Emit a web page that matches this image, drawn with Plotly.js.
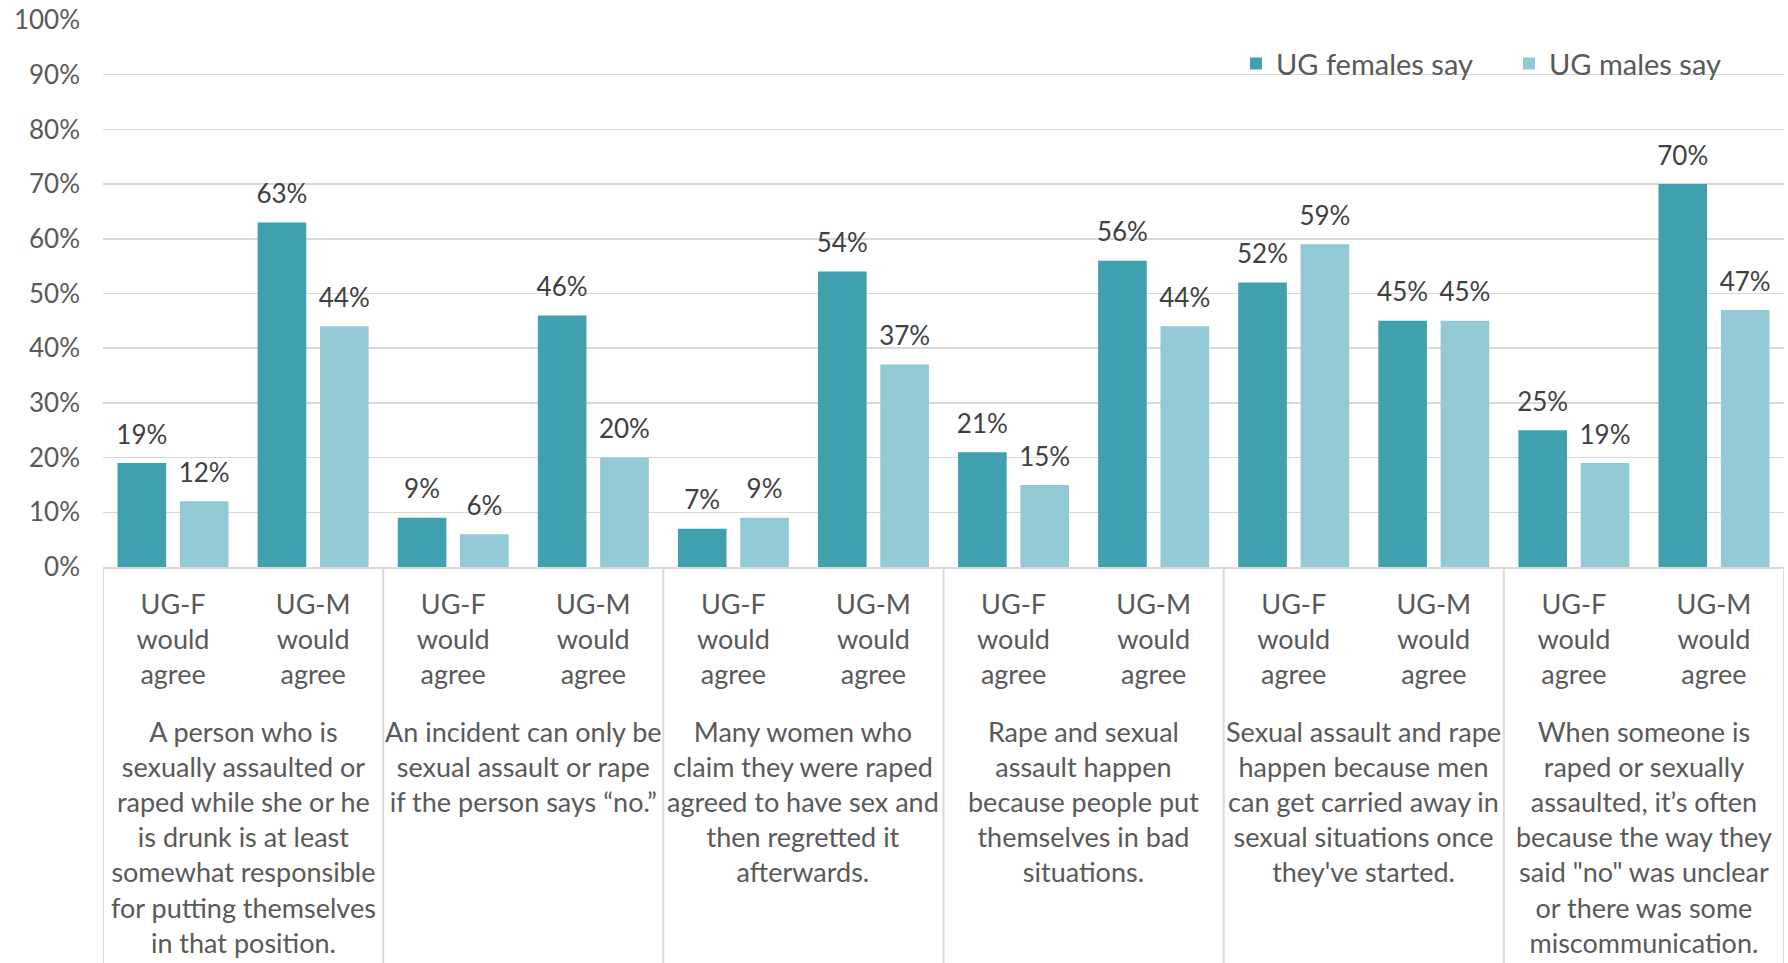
<!DOCTYPE html>
<html>
<head>
<meta charset="utf-8">
<script src="https://cdn.plot.ly/plotly-3.0.1.min.js"></script>
<style>
  html, body { margin: 0; padding: 0; background: #ffffff; }
  #chart { width: 1788px; height: 963px; }
</style>
</head>
<body>
<div id="chart"></div>
<script>
// Survey statements, each spanning a UG-F / UG-M pair of columns
const statements = [
  'A person who is<br>sexually assaulted or<br>raped while she or he<br>is drunk is at least<br>somewhat responsible<br>for putting themselves<br>in that position.',
  'An incident can only be<br>sexual assault or rape<br>if the person says “no.”',
  'Many women who<br>claim they were raped<br>agreed to have sex and<br>then regretted it<br>afterwards.',
  'Rape and sexual<br>assault happen<br>because people put<br>themselves in bad<br>situations.',
  'Sexual assault and rape<br>happen because men<br>can get carried away in<br>sexual situations once<br>they\'ve started.',
  'When someone is<br>raped or sexually<br>assaulted, it’s often<br>because the way they<br>said "no" was unclear<br>or there was some<br>miscommunication.'
];

// Column labels under the bars
const groups = ['UG-F<br>would<br>agree', 'UG-M<br>would<br>agree'];

// Percentages per column (statement order, UG-F then UG-M)
const femalesSay = [19, 63, 9, 46, 7, 54, 21, 56, 52, 45, 25, 70];
const malesSay   = [12, 44, 6, 20, 9, 37, 15, 44, 59, 45, 19, 47];

const seriesNames = ['UG females say', 'UG males say'];
const seriesColors = ['#41A0AE', '#92C9D4'];
const yTickVals = [0, 10, 20, 30, 40, 50, 60, 70, 80, 90, 100];

const columnLabels = statements.flatMap(() => groups);
const columnPos = columnLabels.map((_, i) => i);

const FONT = 'Lato, "Open Sans", sans-serif';
const GREY = '#595959';
const LINE = '#D9D9D9';

const data = [];
[femalesSay, malesSay].forEach((values, k) => {
  data.push({
    type: 'bar',
    name: seriesNames[k],
    x: columnPos,
    y: values,
    offsetgroup: 'g' + k,
    alignmentgroup: 'cols',
    marker: { color: seriesColors[k] },
    hoverinfo: 'none'
  });
});
// Value labels, grouped the same way so they sit over their bars
[femalesSay, malesSay].forEach((values, k) => {
  data.push({
    type: 'scatter',
    mode: 'markers+text',
    x: columnPos,
    y: values,
    offsetgroup: 'g' + k,
    alignmentgroup: 'cols',
    marker: { size: 19, opacity: 0 },
    text: values.map(v => v + '%'),
    textposition: 'top center',
    textfont: { family: FONT, size: 26, color: '#404040' },
    cliponaxis: false,
    showlegend: false,
    hoverinfo: 'none'
  });
});

// Statement captions centred under each pair of columns
const annotations = statements.map((s, i) => ({
  text: s,
  x: 2 * i + 0.5,
  xref: 'x',
  y: 0,
  yref: 'paper',
  yanchor: 'top',
  xanchor: 'center',
  yshift: -146,
  showarrow: false,
  align: 'center',
  font: { family: FONT, size: 27, color: GREY }
}));

// Vertical separators between statements
const dividers = statements.map((_, i) => 2 * i - 0.5).concat([2 * statements.length - 0.5]).map(xv => ({
  type: 'line',
  xref: 'x', yref: 'paper',
  x0: xv, x1: xv, y0: 0, y1: -0.75,
  line: { color: LINE, width: 2 }
}));

const layout = {
  width: 1788,
  height: 963,
  margin: { l: 103, r: 4, t: 20, b: 396 },
  paper_bgcolor: '#ffffff',
  plot_bgcolor: '#ffffff',
  font: { family: FONT, size: 26, color: GREY },
  barmode: 'group',
  bargap: 0.11,
  bargroupgap: 0.22,
  scattermode: 'group',
  scattergap: 0.11,
  showlegend: true,
  legend: {
    orientation: 'h',
    x: 0.674, xanchor: 'left',
    y: 0.92, yanchor: 'middle',
    font: { family: FONT, size: 29, color: GREY },
    entrywidth: 228,
    bgcolor: 'rgba(0,0,0,0)',
    itemclick: false
  },
  xaxis: {
    range: [-0.5, columnPos.length - 0.5],
    tickvals: columnPos,
    ticktext: columnLabels,
    showgrid: false,
    showline: true,
    linecolor: LINE,
    linewidth: 1.5,
    ticks: '',
    ticklabelstandoff: 13,
    tickfont: { family: FONT, size: 27, color: GREY },
    zeroline: false,
    fixedrange: true
  },
  yaxis: {
    range: [0, 100],
    tickvals: yTickVals,
    ticktext: yTickVals.map(v => v + '%'),
    showgrid: true,
    gridcolor: LINE,
    gridwidth: 1.5,
    zeroline: false,
    showline: false,
    ticks: '',
    ticklabelstandoff: 22,
    tickfont: { family: FONT, size: 26, color: GREY },
    fixedrange: true
  },
  annotations: annotations,
  shapes: dividers
};

Plotly.newPlot('chart', data, layout, { displayModeBar: false, staticPlot: true });
</script>
</body>
</html>
